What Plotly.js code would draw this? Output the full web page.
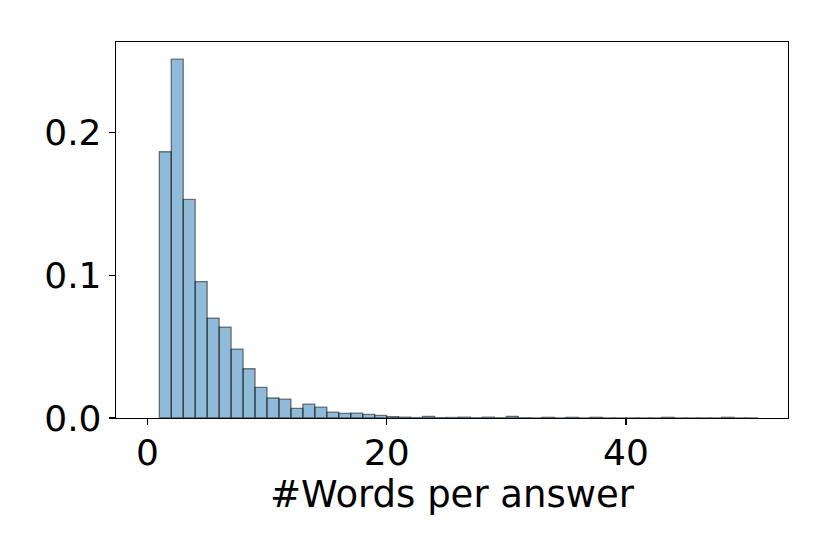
<!DOCTYPE html>
<html>
<head>
<meta charset="utf-8">
<script src="https://cdn.plot.ly/plotly-3.0.1.min.js"></script>
<style>
  html, body { margin: 0; padding: 0; background: #fff; }
  #chart { width: 830px; height: 554px; }
</style>
</head>
<body>
<div id="chart"></div>
<script>
// Histogram bins (left edge, width 1) and density
const binLeft = [
  1, 2, 3, 4, 5, 6, 7, 8, 9, 10,
  11, 12, 13, 14, 15, 16, 17, 18, 19, 20,
  21, 22, 23, 24, 25, 26, 27, 28, 29, 30,
  31, 32, 33, 34, 35, 36, 37, 38, 39, 40,
  41, 42, 43, 44, 45, 46, 47, 48, 49, 50
];
const density = [
  0.1865, 0.2514, 0.1531, 0.0956, 0.0700, 0.0637, 0.0483, 0.0345, 0.0214, 0.0140,
  0.0132, 0.0067, 0.0097, 0.0076, 0.0041, 0.0032, 0.0034, 0.0025, 0.0018, 0.0010,
  0.0006, 0.0003, 0.0011, 0.0003, 0.0004, 0.0006, 0.0002, 0.0006, 0.0002, 0.0012,
  0.0002, 0.0001, 0.0005, 0.0001, 0.0005, 0.0001, 0.0005, 0.0001, 0.0001, 0.0001,
  0.0001, 0.0001, 0.0005, 0.0001, 0.0001, 0.0001, 0.0001, 0.0005, 0.0001, 0.0001
];
const xTicks = [0, 20, 40];
const yTicks = [0.0, 0.1, 0.2];
const yTickText = ['0.0', '0.1', '0.2'];
const xLabel = '#Words per answer';

const font = { family: 'DejaVu Sans', size: 36, color: '#000' };

const trace = {
  type: 'bar',
  x: binLeft,
  y: density,
  width: 1,
  offset: 0,
  marker: {
    color: 'rgba(31,119,180,0.5)',
    line: { color: 'rgba(0,0,0,0.5)', width: 1.3 }
  },
  hoverinfo: 'skip'
};

const axisCommon = {
  showgrid: false,
  zeroline: false,
  showline: true,
  mirror: true,
  linecolor: '#000',
  linewidth: 1.3,
  ticks: 'outside',
  ticklen: 6,
  tickwidth: 1.3,
  tickcolor: '#000',
  tickfont: font
};

const layout = {
  width: 830,
  height: 554,
  margin: { l: 116, r: 42, t: 42, b: 136 },
  paper_bgcolor: '#fff',
  plot_bgcolor: '#fff',
  showlegend: false,
  bargap: 0,
  font: font,
  xaxis: Object.assign({}, axisCommon, {
    range: [-2.62, 53.54],
    tickmode: 'array',
    tickvals: xTicks,
    ticktext: xTicks.map(String),
    ticklabelstandoff: -4,
    title: { text: xLabel, font: Object.assign({}, font, { size: 37 }), standoff: 6 }
  }),
  yaxis: Object.assign({}, axisCommon, {
    range: [0, 0.2634],
    tickmode: 'array',
    tickvals: yTicks,
    ticktext: yTickText
  })
};

Plotly.newPlot('chart', [trace], layout, { displayModeBar: false, staticPlot: true });
</script>
</body>
</html>
